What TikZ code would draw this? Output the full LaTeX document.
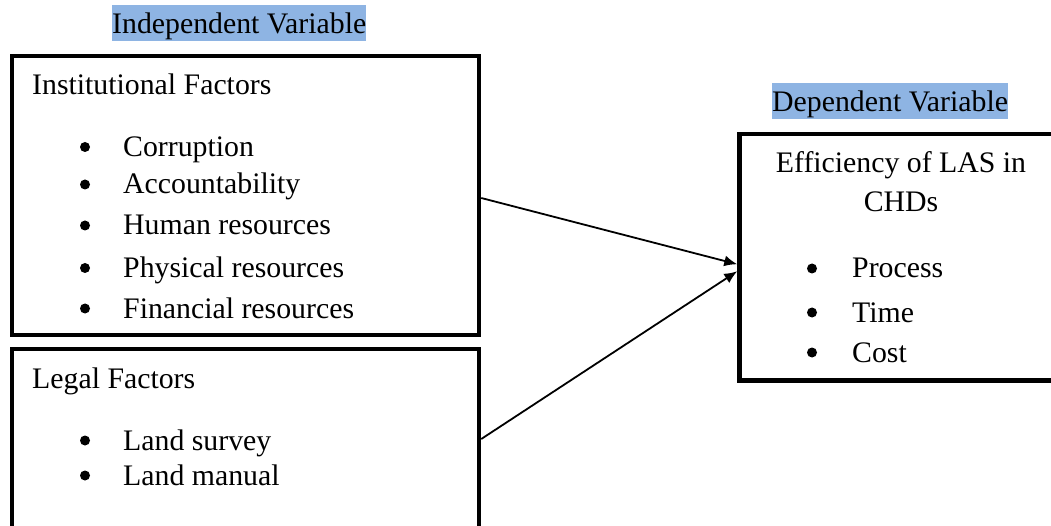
\documentclass[tikz,border=0pt]{standalone}
\usepackage{fontspec}
\setmainfont{Liberation Serif}
\usetikzlibrary{arrows.meta}
\definecolor{hl}{RGB}{142,180,227}
\begin{document}
\begin{tikzpicture}[x=1pt,y=-1pt,
  every node/.style={font=\fontsize{29.8}{34}\selectfont},
  txt/.style={anchor=base west,inner sep=0pt},
  heading/.style={anchor=base west,inner xsep=0pt,inner ysep=0pt,fill=hl,text height=28pt,text depth=8pt},
  framebox/.style={draw,line width=4.5pt,rectangle,inner sep=0pt},
  conn/.style={line width=1.8pt,-{Latex[length=13pt,width=11pt]}},
  bul/.style={fill=black}]
\useasboundingbox (0,0) rectangle (1051,526);
\clip (0,0) rectangle (1051,526);
\fill[white] (0,0) rectangle (1051,526);
% headings
\node[heading] (indep) at (112,33.5) {Independent Variable};
\node[heading] (dep) at (772,111.5) {Dependent Variable};
% boxes
\node[framebox,minimum width=467pt,minimum height=279pt] (inst) at (245.5,195.5) {};
\node[framebox,minimum width=467pt,minimum height=191pt] (legal) at (245.5,444.5) {};
\node[framebox,minimum width=320.5pt,minimum height=246.5pt] (eff) at (899.75,257.25) {};
% institutional factors
\node[txt] (t0) at (32,95) {Institutional Factors};
\node[txt] (t1) at (123,156.5) {Corruption};
\node[txt] (t2) at (123,194) {Accountability};
\node[txt] (t3) at (123,235) {Human resources};
\node[txt] (t4) at (123,277.5) {Physical resources};
\node[txt] (t5) at (123,318) {Financial resources};
\foreach \y in {156.5,194,235,277.5,318} \fill[bul] (85,\y-9.5) circle (5);
% legal factors
\node[txt] (l0) at (32,388) {Legal Factors};
\node[txt] (l1) at (123,450) {Land survey};
\node[txt] (l2) at (123,485) {Land manual};
\foreach \y in {450,485} \fill[bul] (85,\y-9.5) circle (5);
% efficiency
\node[anchor=base,inner sep=0pt] (e0) at (901,173) {Efficiency of LAS in};
\node[anchor=base,inner sep=0pt] (e1) at (901,212) {CHDs};
\node[txt] (e2) at (852,278) {Process};
\node[txt] (e3) at (852,322) {Time};
\node[txt] (e4) at (852,362) {Cost};
\foreach \y in {278,322,362} \fill[bul] (812,\y-9.5) circle (5);
% connectors
\draw[conn] ([yshift=-2.5pt]inst.east) -- ([yshift=-7pt]eff.west);
\draw[conn] ([yshift=5.5pt]legal.east) -- ([yshift=-14pt]eff.west);
\end{tikzpicture}
\end{document}
